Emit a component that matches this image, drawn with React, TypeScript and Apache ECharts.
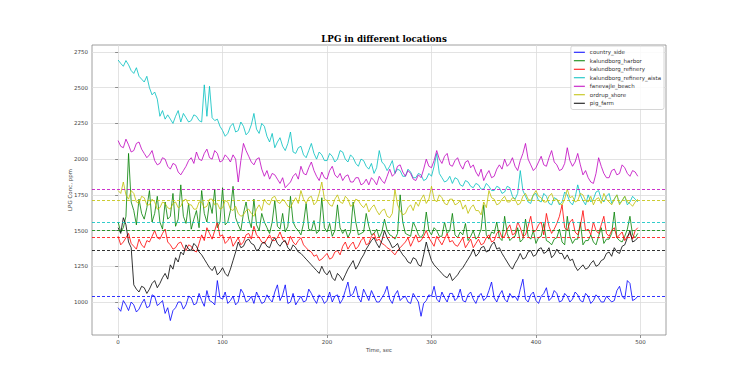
import React, { useEffect, useRef } from "react";
import * as echarts from "echarts";

const NAMES = [
  "country_side",
  "kalundborg_harbor",
  "kalundborg_refinery",
  "kalundborg_refinery_aista",
  "fanevajle_beach",
  "ordrup_shore",
  "pig_farm",
];
const COLORS = ["#0000ff", "#008000", "#ff0000", "#00bfbf", "#bf00bf", "#bfbf00", "#000000"];
const MEANS = [1037, 1499, 1453, 1558, 1791, 1709, 1364];
const X_TICKS = [0, 100, 200, 300, 400, 500];
const Y_TICKS = [1000, 1250, 1500, 1750, 2000, 2250, 2500, 2750];
const TIME_STEP = 2.5;

const countrySide = [
  960, 935, 1010, 980, 940, 1000, 980, 930, 950, 990, 1020, 960, 970, 1050, 1040, 975, 990, 1010, 920, 960,
  870, 940, 960, 1000, 1000, 950, 980, 1040, 1030, 980, 990, 1060, 1010, 970, 1080, 1010, 1000, 980, 1150, 1030,
  1020, 1070, 990, 1010, 1040, 980, 1000, 1090, 1060, 1000, 1010, 1040, 990, 1070, 1030, 990, 1000, 1050, 1020, 1000,
  1070, 1120, 1010, 1050, 1120, 990, 1000, 1060, 980, 1010, 1040, 1000, 1010, 1090, 1060, 1020, 990, 1050, 1030, 990,
  1010, 1070, 1000, 1040, 1050, 990, 1020, 1080, 1140, 1040, 1060, 1110, 1030, 1000, 1090, 1050, 1010, 1080, 1040, 1000,
  1000, 1030, 1060, 1110, 1020, 990, 1050, 1080, 1010, 1030, 1040, 1000, 990, 1060, 1030, 1000, 900, 990, 1010, 1050,
  1040, 1110, 1020, 1000, 1070, 1030, 1000, 1060, 1060, 1010, 1030, 1090, 1010, 1000, 1050, 1070, 1020, 990, 1040, 1060,
  1010, 1030, 1080, 1140, 1030, 1000, 1050, 1080, 1020, 1000, 1060, 1030, 1040, 1010, 1090, 1160, 1020, 1000, 1050, 1070,
  1010, 990, 1040, 1060, 1100, 1010, 1030, 1080, 1060, 1000, 1010, 1060, 1040, 1000, 1020, 1070, 1050, 1010, 1000, 1060,
  1040, 990, 1010, 1050, 1030, 1000, 1000, 1040, 1020, 1000, 1010, 1080, 1110, 1040, 1020, 1150, 1130, 1010, 1020, 1040,
];
const harbor = [
  1560, 1490, 1520, 1600, 2040, 1700, 1640, 1540, 1720, 1620, 1580, 1660, 1780, 1560, 1620, 1740, 1560, 1510, 1700, 1580,
  1600, 1760, 1530, 1580, 1820, 1600, 1550, 1690, 1510, 1580, 1640, 1520, 1780, 1620, 1560, 1700, 1620, 1790, 1520, 1560,
  1800, 1540, 1560, 1640, 1810, 1590, 1540, 1500, 1620, 1700, 1580, 1520, 1720, 1540, 1500, 1620, 1560, 1520, 1480, 1560,
  1710, 1530, 1510, 1620, 1490, 1530, 1740, 1560, 1520, 1500, 1470, 1550, 1690, 1510, 1500, 1570, 1480, 1500, 1730, 1520,
  1490, 1550, 1460, 1500, 1680, 1520, 1480, 1510, 1450, 1490, 1700, 1560, 1470, 1480, 1490, 1620, 1530, 1470, 1480, 1510,
  1450, 1490, 1580, 1500, 1470, 1460, 1440, 1480, 1750, 1560, 1480, 1470, 1460, 1560, 1520, 1470, 1450, 1480, 1630, 1500,
  1470, 1520, 1500, 1460, 1460, 1560, 1480, 1500, 1620, 1470, 1450, 1490, 1470, 1550, 1430, 1460, 1500, 1440, 1460, 1510,
  1680, 1470, 1440, 1490, 1480, 1560, 1450, 1430, 1600, 1480, 1430, 1450, 1460, 1520, 1420, 1440, 1580, 1460, 1440, 1500,
  1410, 1450, 1460, 1550, 1430, 1420, 1400, 1440, 1450, 1510, 1420, 1400, 1600, 1460, 1410, 1440, 1440, 1560, 1400, 1430,
  1430, 1470, 1420, 1400, 1460, 1520, 1410, 1440, 1440, 1480, 1630, 1450, 1430, 1420, 1460, 1510, 1600, 1470, 1450, 1480,
];
const refinery = [
  1460, 1400, 1420, 1450, 1480, 1410, 1390, 1370, 1440, 1400, 1380, 1430, 1420, 1460, 1500, 1450, 1440, 1480, 1510, 1420,
  1400, 1370, 1380, 1410, 1420, 1380, 1360, 1400, 1390, 1360, 1350, 1410, 1470, 1430, 1520, 1480, 1440, 1500, 1560, 1460,
  1470, 1410, 1430, 1460, 1390, 1420, 1450, 1400, 1420, 1470, 1480, 1440, 1530, 1470, 1450, 1420, 1410, 1440, 1470, 1430,
  1430, 1450, 1490, 1440, 1420, 1400, 1460, 1420, 1400, 1430, 1450, 1400, 1380, 1360, 1350, 1320, 1330, 1290, 1300, 1320,
  1340, 1300, 1310, 1350, 1360, 1330, 1390, 1420, 1370, 1400, 1420, 1370, 1390, 1430, 1450, 1400, 1410, 1460, 1480, 1430,
  1440, 1410, 1400, 1380, 1370, 1350, 1330, 1360, 1380, 1400, 1420, 1450, 1390, 1430, 1470, 1420, 1430, 1460, 1500, 1450,
  1420, 1390, 1460, 1430, 1400, 1440, 1480, 1420, 1430, 1400, 1390, 1420, 1450, 1380, 1410, 1440, 1380, 1410, 1440, 1400,
  1410, 1450, 1470, 1420, 1430, 1480, 1500, 1450, 1460, 1510, 1540, 1470, 1480, 1560, 1520, 1460, 1470, 1530, 1600, 1490,
  1500, 1540, 1560, 1470, 1620, 1530, 1480, 1510, 1550, 1600, 1680, 1520, 1500, 1560, 1580, 1490, 1470, 1530, 1640, 1500,
  1510, 1470, 1560, 1500, 1480, 1540, 1600, 1480, 1460, 1500, 1520, 1450, 1470, 1490, 1430, 1460, 1480, 1440, 1500, 1520,
];
const refineryAista = [
  2694, 2670, 2650, 2690, 2660, 2620, 2600, 2640, 2580, 2560, 2540, 2580, 2500, 2450, 2470, 2420, 2300, 2340, 2280, 2310,
  2280, 2250, 2300, 2340, 2260, 2320, 2290, 2260, 2270, 2310, 2300, 2270, 2260, 2520, 2300, 2510, 2290, 2270, 2280, 2230,
  2200, 2160, 2180, 2230, 2250, 2190, 2200, 2260, 2230, 2170, 2190, 2240, 2320, 2210, 2180, 2250, 2230, 2160, 2120, 2180,
  2080, 2120, 2150, 2090, 2060, 2110, 2190, 2050, 2040, 2080, 2090, 2030, 2010, 2060, 2110, 2040, 2000, 2050, 2030, 1990,
  1990, 2040, 2020, 1980, 2000, 2060, 2050, 2000, 1980, 2030, 2010, 1970, 1950, 2000, 1990, 1950, 1930, 1970, 1900, 1940,
  2060, 1980, 1960, 1920, 1950, 1990, 1900, 1930, 1920, 1880, 1880, 1930, 1910, 1870, 1870, 1900, 1890, 1850, 1860, 1900,
  1880, 1950, 2040, 1900, 1870, 1840, 1850, 1880, 1830, 1870, 1860, 1820, 1810, 1850, 1840, 1810, 1800, 1830, 1820, 1790,
  1790, 1830, 1810, 1780, 1780, 1810, 1800, 1760, 1770, 1810, 1800, 1740, 1720, 1760, 1920, 1780, 1740, 1700, 1690, 1750,
  1760, 1710, 1700, 1760, 1740, 1690, 1680, 1730, 1720, 1680, 1700, 1770, 1750, 1700, 1680, 1730, 1820, 1750, 1710, 1680,
  1750, 1700, 1720, 1770, 1780, 1720, 1700, 1740, 1760, 1690, 1720, 1750, 1690, 1710, 1740, 1680, 1700, 1740, 1720, 1700,
];
const beach = [
  2130, 2090, 2080, 2140, 2100, 2050, 2060, 2110, 2120, 2070, 2040, 2010, 2030, 2060, 1990, 1960, 1970, 2010, 2000, 1950,
  1930, 1970, 1960, 1910, 1890, 1920, 1950, 1990, 2010, 1970, 2050, 2000, 1990, 2040, 2070, 2010, 2000, 2060, 2040, 1980,
  1990, 2030, 2010, 1980, 2030, 2000, 1840, 1990, 2110, 2060, 2020, 1980, 1960, 2000, 2010, 1930, 1880, 1920, 1860, 1900,
  1890, 1860, 1830, 1870, 1800, 1820, 1840, 1880, 1900, 1860, 1950, 1900, 1890, 1940, 1980, 1920, 1880, 1850, 1910, 1870,
  1860, 1920, 1950, 1890, 1870, 1900, 1850, 1880, 1890, 1840, 1840, 1870, 1870, 1820, 1830, 1860, 1820, 1870, 1850, 1820,
  1880, 1850, 1830, 1880, 1930, 1880, 1900, 1950, 1960, 1910, 1880, 1920, 1900, 1860, 1850, 1890, 1870, 1930, 2000, 1950,
  1940, 1990, 2060, 2000, 1970, 2020, 2040, 1960, 1950, 1990, 2010, 1960, 1930, 1980, 1990, 1940, 1960, 1910, 1880, 1930,
  1850, 1890, 1920, 1870, 1880, 1930, 1960, 1930, 2000, 1950, 1970, 2010, 1950, 1920, 1990, 2040, 2110, 2000, 1960, 1920,
  1940, 1980, 2020, 1960, 1950, 2010, 2060, 1980, 1960, 1920, 1930, 1970, 2080, 1990, 1950, 1980, 2040, 1960, 1890, 1920,
  1870, 1840, 1830, 1900, 2010, 1950, 1900, 1870, 1870, 1920, 1930, 1890, 1900, 1960, 1940, 1900, 1880, 1920, 1910, 1880,
];
const shore = [
  1780, 1760, 1840, 1750, 1720, 1780, 1760, 1700, 1690, 1740, 1730, 1680, 1680, 1720, 1700, 1650, 1660, 1700, 1690, 1660,
  1650, 1690, 1700, 1660, 1670, 1710, 1720, 1680, 1680, 1650, 1650, 1700, 1700, 1660, 1670, 1720, 1720, 1680, 1690, 1650,
  1660, 1710, 1700, 1650, 1640, 1670, 1620, 1600, 1610, 1640, 1650, 1620, 1600, 1650, 1680, 1640, 1720, 1690, 1680, 1730,
  1740, 1700, 1690, 1720, 1700, 1670, 1660, 1700, 1730, 1690, 1780, 1720, 1690, 1730, 1740, 1680, 1700, 1760, 1840, 1720,
  1710, 1680, 1670, 1720, 1750, 1700, 1690, 1740, 1720, 1670, 1680, 1720, 1710, 1680, 1660, 1690, 1630, 1660, 1680, 1640,
  1610, 1640, 1650, 1600, 1590, 1620, 1790, 1680, 1640, 1610, 1620, 1660, 1680, 1640, 1700, 1670, 1720, 1750, 1690, 1720,
  1810, 1720, 1700, 1750, 1730, 1690, 1680, 1720, 1720, 1680, 1690, 1710, 1650, 1680, 1620, 1660, 1680, 1640, 1640, 1610,
  1700, 1660, 1780, 1730, 1720, 1680, 1690, 1720, 1740, 1700, 1700, 1730, 1720, 1680, 1690, 1740, 1760, 1720, 1710, 1750,
  1780, 1740, 1730, 1700, 1700, 1740, 1760, 1710, 1720, 1690, 1680, 1720, 1790, 1730, 1740, 1700, 1710, 1760, 1750, 1710,
  1700, 1740, 1680, 1720, 1730, 1690, 1760, 1720, 1700, 1680, 1720, 1750, 1680, 1710, 1740, 1700, 1690, 1670, 1700, 1720,
];
const pigFarm = [
  1520, 1480, 1590, 1540, 1420, 1380, 1120, 1090, 1070, 1110, 1100, 1060, 1090, 1130, 1150, 1100, 1130, 1170, 1200, 1160,
  1260, 1230, 1310, 1280, 1350, 1330, 1400, 1370, 1360, 1410, 1390, 1350, 1330, 1300, 1270, 1240, 1220, 1250, 1190, 1210,
  1240, 1200, 1180, 1230, 1290, 1350, 1420, 1380, 1390, 1430, 1440, 1410, 1400, 1360, 1370, 1410, 1420, 1390, 1380, 1430,
  1450, 1410, 1390, 1420, 1430, 1380, 1360, 1400, 1380, 1350, 1340, 1320, 1300, 1280, 1260, 1240, 1220, 1200, 1250, 1210,
  1190, 1220, 1170, 1150, 1200, 1180, 1150, 1190, 1230, 1260, 1290, 1230, 1260, 1300, 1330, 1370, 1400, 1430, 1450, 1410,
  1380, 1430, 1500, 1450, 1420, 1380, 1390, 1410, 1360, 1330, 1310, 1280, 1270, 1310, 1300, 1260, 1250, 1330, 1420, 1350,
  1290, 1260, 1240, 1220, 1200, 1180, 1170, 1200, 1150, 1170, 1190, 1220, 1240, 1270, 1300, 1330, 1370, 1320, 1340, 1380,
  1390, 1350, 1360, 1400, 1420, 1370, 1380, 1340, 1310, 1280, 1250, 1230, 1270, 1300, 1340, 1300, 1310, 1350, 1360, 1320,
  1330, 1370, 1380, 1340, 1350, 1380, 1310, 1330, 1370, 1340, 1340, 1300, 1330, 1290, 1300, 1250, 1220, 1240, 1260, 1230,
  1240, 1270, 1290, 1250, 1260, 1290, 1300, 1340, 1350, 1320, 1380, 1350, 1340, 1390, 1400, 1450, 1500, 1420, 1430, 1450,
];
const SERIES_VALUES = [countrySide, harbor, refinery, refineryAista, beach, shore, pigFarm];

export default function App() {
  const ref = useRef<HTMLDivElement>(null);
  useEffect(() => {
    if (!ref.current) return;
    const chart = echarts.init(ref.current, undefined, { renderer: "svg" });
    const axisText = { fontFamily: "DejaVu Sans", fontSize: 5.5, color: "#444" };
    chart.setOption({
      animation: false,
      backgroundColor: "#fff",
      title: {
        text: "LPG in different locations",
        left: 379,
        textAlign: "center",
        top: 29,
        textStyle: { fontFamily: "DejaVu Serif", fontWeight: "bold", fontSize: 8.7, color: "#000" },
      },
      grid: {
        left: 92,
        right: 74,
        top: 45,
        bottom: 41,
        show: true,
        borderColor: "#888",
        borderWidth: 0.8,
        backgroundColor: "#fff",
      },
      legend: {
        orient: "vertical",
        right: 76,
        top: 46,
        icon: "rect",
        itemWidth: 11,
        itemHeight: 1,
        itemGap: 2,
        padding: [3, 3, 3, 3],
        borderColor: "#ccc",
        borderWidth: 0.8,
        borderRadius: 2,
        backgroundColor: "rgba(255,255,255,0.85)",
        textStyle: { fontFamily: "DejaVu Sans", fontSize: 5.5, lineHeight: 6.5, color: "#333" },
        data: NAMES,
      },
      xAxis: {
        type: "value",
        min: -25,
        max: 524.5,
        name: "Time, sec",
        nameLocation: "middle",
        nameGap: 12,
        nameMoveOverlap: false,
        nameTextStyle: axisText,
        axisLine: { show: false },
        axisTick: { show: true, length: 3, lineStyle: { color: "#777", width: 0.8 }, customValues: X_TICKS },
        axisLabel: { ...axisText, margin: 4, customValues: X_TICKS, formatter: (v: number) => String(v) },
        splitLine: { show: true, lineStyle: { color: "#dcdcdc", width: 0.8 } },
      },
      yAxis: {
        type: "value",
        min: 769,
        max: 2799,
        name: "LPG Conc, ppm",
        nameLocation: "middle",
        nameGap: 19,
        nameMoveOverlap: false,
        nameTextStyle: axisText,
        axisLine: { show: false },
        axisTick: { show: true, length: 3, lineStyle: { color: "#777", width: 0.8 }, customValues: Y_TICKS },
        axisLabel: { ...axisText, margin: 4, customValues: Y_TICKS, formatter: (v: number) => String(v) },
        splitLine: { show: true, lineStyle: { color: "#dcdcdc", width: 0.8 } },
      },
      series: NAMES.map((name, k) => ({
        name,
        type: "line",
        symbol: "none",
        color: COLORS[k],
        lineStyle: { width: 0.8, color: COLORS[k] },
        data: SERIES_VALUES[k].map((v, i) => [i * TIME_STEP, v]),
        markLine: {
          silent: true,
          symbol: ["none", "none"],
          label: { show: false },
          lineStyle: { type: [3, 2], width: 0.8, color: COLORS[k] },
          data: [{ yAxis: MEANS[k] }],
        },
      })),
    });
    return () => chart.dispose();
  }, []);
  return <div ref={ref} style={{ position: "fixed", left: 0, top: 0, width: 740, height: 376 }} />;
}
